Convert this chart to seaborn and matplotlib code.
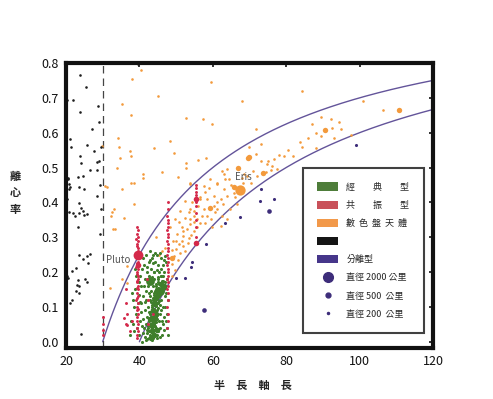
import numpy as np
import pandas as pd
import matplotlib
matplotlib.use('Agg')
import matplotlib.pyplot as plt
import seaborn as sns
from matplotlib.patches import Patch
from matplotlib.lines import Line2D

sns.set_style('white')
plt.rcParams['font.family'] = ['Noto Sans CJK TC', 'DejaVu Sans']
plt.rcParams['axes.unicode_minus'] = False

# ---- data: (semi-major axis, eccentricity) ----
black_pts = [
    [23.9, .765], [25.4, .73], [21.8, .695], [20.4, .695], [23.9, .66], [28.7, .678], [29.0, .632],
    [27.0, .61], [21.1, .582], [21.4, .56], [25.7, .565], [23.7, .532], [24.2, .514], [27.7, .548],
    [28.5, .515], [26.5, .494], [28.5, .494], [20.6, .467], [20.9, .452], [21.0, .445], [23.4, .473],
    [24.5, .476], [23.6, .445], [24.9, .438], [20.7, .438], [28.4, .417], [23.5, .398], [24.1, .385],
    [24.5, .375], [20.8, .371], [21.8, .37], [23.6, .37], [25.0, .365], [25.6, .368], [23.3, .33],
    [29.3, .308], [23.6, .25], [25.6, .247], [24.6, .238], [25.9, .226], [26.6, .252], [22.7, .213],
    [21.7, .203], [20.2, .19], [20.6, .184], [23.4, .178], [25.3, .18], [25.6, .17], [23.0, .162],
    [23.5, .16], [22.6, .145], [23.6, .14], [21.5, .12], [21.1, .11], [24.1, .021], [39.6, .796],
    [29.5, .56], [29.3, .45], [20.3, .41], [22.5, .36], [29.6, .38], [20.5, .47], [28.9, .52],
]

orange_pts = [
    [40.5, .779], [37.9, .755], [45.1, .704], [59.6, .745], [68.0, .692], [35.2, .681], [37.7, .651],
    [52.8, .643], [57.2, .64], [59.8, .625], [34.3, .585], [29.8, .563], [34.5, .558], [44.0, .557],
    [48.4, .576], [37.5, .546], [37.6, .532], [49.5, .541], [34.8, .526], [40.9, .481], [40.9, .47],
    [33.8, .498], [46.1, .486], [52.6, .512], [52.6, .498], [56.1, .522], [58.2, .528], [50.5, .473],
    [30.7, .448], [31.1, .445], [35.2, .438], [37.6, .456], [38.5, .456], [53.7, .452], [32.5, .371],
    [32.3, .361], [84.4, .72], [71.7, .61], [100.8, .692], [106.5, .666], [87.1, .625], [89.4, .644],
    [92.1, .638], [92.6, .613], [95.0, .611], [89.6, .59], [92.9, .584], [97.6, .594], [83.7, .573],
    [84.4, .558], [88.2, .555], [70.0, .56], [73.2, .568], [71.9, .539], [73.0, .52], [75.0, .52],
    [76.6, .524], [78.0, .536], [79.4, .532], [81.9, .534], [76.2, .505], [75.9, .494], [77.4, .496],
    [88.0, .60], [94.5, .63], [53.9, .38], [53.4, .371], [54.8, .361], [53.9, .352], [55.7, .352],
    [56.6, .342], [53.9, .337], [53.0, .323], [54.8, .318], [55.7, .328], [52.0, .303], [53.4, .299],
    [51.6, .289], [50.7, .28], [52.0, .275], [50.1, .265], [51.1, .256], [52.5, .26], [49.3, .246],
    [50.4, .236], [48.9, .222], [49.8, .207], [48.9, .188], [57.5, .38], [58.4, .361], [58.0, .342],
    [61.2, .40], [60.7, .371], [62.5, .361], [59.8, .328], [62.1, .332], [63.9, .352], [64.8, .38],
    [66.6, .395], [65.7, .428], [63.9, .419], [63.0, .438], [61.2, .457], [59.3, .467], [57.5, .448],
    [53.9, .457], [56.6, .409], [52.5, .404], [51.1, .376], [49.8, .352], [48.4, .328], [70.3, .457],
    [72.1, .476], [74.4, .486], [68.4, .481], [33.4, .323], [35.7, .356], [33.1, .382], [38.4, .395],
    [35.2, .179], [36.6, .169], [32.9, .323], [32.0, .155], [36.6, .217], [54.8, .376], [56.1, .39],
    [61.2, .38], [62.1, .409], [60.2, .419], [58.4, .409], [56.6, .414], [54.3, .40], [64.3, .467],
    [63.0, .481], [68.3, .457], [69.4, .476], [62.5, .491], [63.9, .496], [63.4, .467], [61.2, .452],
    [50.3, .31], [51.5, .33], [49.2, .29], [47.0, .27], [46.2, .26], [45.3, .25], [44.6, .3],
    [50.9, .345], [52.3, .355], [55.0, .343], [57.0, .362], [59.6, .352], [60.4, .39], [62.8, .395],
    [51.8, .318], [53.2, .283], [54.0, .305], [50.0, .29], [49.0, .262], [57.9, .43], [59.0, .44],
    [65.0, .45], [66.0, .415], [67.9, .47], [71.0, .49], [74.8, .51], [80.5, .55], [86.0, .585],
]
orange_mid = [[66.9, .50], [70.0, .529], [73.6, .484], [59.2, .384], [49.0, .241], [110.8, .666],
              [90.5, .608], [65.7, .443], [69.6, .528]]
eris = [67.5, .435]

red_pts = [
    # 3:2 resonance column
    [39.3, .33], [39.5, .32], [39.4, .31], [39.6, .30], [39.2, .295], [39.5, .29], [39.4, .28],
    [39.3, .275], [39.6, .27], [39.5, .26], [39.4, .255], [39.3, .245], [39.5, .24], [39.6, .23],
    [39.4, .225], [39.2, .215], [39.5, .21], [39.4, .20], [39.3, .195], [39.6, .19], [39.5, .18],
    [39.4, .175], [39.3, .17], [39.5, .16], [39.4, .155], [39.6, .15], [39.3, .14], [39.5, .13],
    [39.4, .125], [39.2, .12], [39.5, .11], [39.4, .10], [39.6, .095], [39.3, .09], [39.5, .08],
    [39.4, .07], [39.3, .06], [39.5, .05], [39.4, .04], [39.6, .03], [39.3, .02], [39.4, .01],
    # 2:1 resonance column
    [47.7, .40], [47.8, .38], [47.6, .36], [47.7, .35], [47.9, .34], [47.7, .33], [47.6, .32],
    [47.8, .31], [47.7, .30], [47.6, .29], [47.8, .28], [47.7, .27], [47.9, .26], [47.6, .25],
    [47.7, .24], [47.8, .23], [47.6, .22], [47.7, .21], [47.8, .20], [47.7, .19], [47.6, .18],
    [47.8, .17], [47.7, .16], [47.6, .15], [47.8, .14], [47.7, .12], [47.6, .10], [47.8, .08],
    [47.7, .06], [47.6, .04],
    # 5:2 resonance column
    [55.4, .45], [55.5, .44], [55.3, .43], [55.4, .42], [55.5, .41], [55.4, .40], [55.3, .39],
    [55.5, .37], [55.4, .35], [55.3, .33], [55.5, .30],
    # trojans and other resonances
    [30.1, .035], [30.2, .05], [30.0, .072], [30.1, .02], [36.4, .05], [36.5, .08], [36.3, .11],
    [36.4, .15], [35.7, .069], [36.6, .049], [37.4, .03], [38.0, .06], [42.3, .05], [42.3, .12],
    [42.2, .18], [43.7, .08],
]
red_mid = [[55.3, .284], [55.5, .41], [39.5, .22]]
pluto = [39.5, .25]

purple_pts = [[99.0, .566], [73.0, .438], [76.8, .409], [72.8, .404], [67.3, .358], [63.2, .34],
              [58.2, .28], [54.3, .23], [54.1, .214], [52.5, .184], [50.1, .184]]
purple_mid = [[75.3, .376], [57.5, .092]]

green_pts = [
    [41.8, .005], [42.5, .01], [43.0, .015], [43.3, .005], [43.8, .012], [44.2, .018], [42.2, .008], [43.6, .02],
    [42.0, .025], [42.7, .03], [43.1, .035], [43.5, .028], [44.0, .033], [44.4, .038], [42.4, .04], [43.9, .022],
    [42.3, .045], [42.9, .05], [43.3, .055], [43.7, .048], [44.1, .052], [44.6, .058], [42.6, .06], [43.5, .042],
    [42.6, .065], [43.2, .07], [43.6, .075], [44.0, .068], [44.4, .072], [44.8, .078], [43.0, .08], [43.8, .062],
    [42.9, .085], [43.5, .09], [43.9, .095], [44.3, .088], [44.7, .092], [45.0, .098], [43.3, .10], [44.1, .082],
    [43.3, .105], [43.8, .11], [44.2, .115], [44.6, .108], [45.0, .112], [45.3, .118], [43.6, .12], [44.4, .102],
    [43.7, .125], [44.2, .13], [44.6, .135], [45.0, .128], [45.4, .132], [45.7, .138], [44.0, .14], [44.8, .122],
    [44.2, .145], [44.6, .15], [45.0, .155], [45.4, .148], [45.8, .152], [46.1, .158],
    [44.6, .165], [45.1, .17], [45.6, .168], [46.2, .175], [45.0, .185], [45.8, .19], [46.5, .188],
    [38.6, .03], [39.0, .08], [38.8, .15], [39.2, .19], [40.0, .02], [40.2, .06], [40.5, .11], [40.3, .16],
    [40.7, .21], [40.9, .24], [41.2, .04], [41.4, .09], [41.0, .13], [41.6, .18], [41.3, .22], [41.8, .25],
    [42.1, .07], [41.9, .12], [42.3, .16], [42.0, .20], [42.5, .23], [42.8, .26], [43.1, .21], [43.4, .24],
    [43.9, .20], [44.2, .23], [44.7, .25], [45.0, .22], [45.4, .20], [45.9, .24], [46.3, .22], [46.8, .20],
    [47.2, .23], [46.9, .17], [47.3, .14], [47.0, .10], [46.6, .07], [47.4, .04], [46.2, .02], [45.6, .04],
    [45.8, .09], [46.0, .12], [46.9, .13], [45.3, .06], [47.6, .08], [47.9, .02], [44.9, .01], [45.1, .03],
    [39.6, .11], [38.4, .10], [37.8, .06], [37.5, .02], [40.8, .00], [41.5, .015], [46.5, .15], [47.5, .18],
    [44.0, .18], [43.6, .16], [42.7, .19], [43.0, .13], [42.4, .10], [41.7, .05], [44.5, .16], [45.2, .18],
    [46.0, .19], [47.0, .245], [44.3, .255], [42.9, .235], [45.5, .255], [43.7, .25], [46.4, .05], [47.8, .12],
    [39.9, .135], [40.6, .045], [38.2, .12], [42.8, .12], [43.2, .145], [44.9, .065], [45.5, .105], [46.3, .10],
    [42.1, .035], [42.8, .02], [43.4, .065], [44.3, .045], [44.8, .02], [42.5, .085], [43.1, .115], [44.0, .105],
    [44.9, .14], [45.3, .165], [46.0, .14], [45.6, .08], [46.1, .06], [41.1, .065], [40.4, .085], [41.5, .115],
    [41.2, .16], [41.9, .145], [42.6, .14], [43.3, .185], [44.0, .2], [44.9, .205], [45.9, .21], [46.6, .235],
    [42.2, .215], [43.6, .225], [40.1, .19], [39.4, .04], [39.8, .17], [38.9, .21], [45.7, .015], [46.8, .035],
    [47.2, .06], [47.1, .155], [46.4, .175], [41.0, .025], [40.2, .115], [38.3, .05], [37.9, .14], [43.9, .135],
]
green_mid = [[44.3, .11], [44.6, .125], [43.0, .065], [43.8, .09], [44.8, .035], [44.0, .02], [45.2, .14],
             [46.6, .16], [43.5, .045], [44.1, .06], [43.4, .03], [44.5, .08], [43.2, .01], [45.9, .165]]
green_big = [[43.0, .175], [45.7, .145]]

perihelion_q = [30, 40]
a_limit = 30

col_green = '#3f7f2c'
col_red = '#d4294a'
col_orange = '#f39a3c'
col_black = '#1e1e1e'
col_purple = '#3d2d7a'


def frame(pts):
    return pd.DataFrame(pts, columns=['a', 'e'])


fig = plt.figure(figsize=(4.93, 3.99), dpi=100)
ax = fig.add_axes([66 / 493, 1 - 348 / 399, (433 - 66) / 493, (348 - 63) / 399])

# perihelion curves and the a=30 line
for q in perihelion_q:
    aa = np.linspace(q, 120, 200)
    ax.plot(aa, 1 - q / aa, color='#63549a', lw=1.0, zorder=1)
ax.axvline(a_limit, color='#444444', lw=0.9, ls=(0, (6, 4)), zorder=1)

kw = dict(linewidth=0, legend=False, ax=ax)
sns.scatterplot(data=frame(orange_pts), x='a', y='e', color=col_orange, s=3.5, zorder=2, **kw)
sns.scatterplot(data=frame(orange_mid), x='a', y='e', color=col_orange, s=15, zorder=2, **kw)
sns.scatterplot(data=frame([eris]), x='a', y='e', color=col_orange, s=55, zorder=2, **kw)
sns.scatterplot(data=frame(black_pts), x='a', y='e', color=col_black, s=3.5, zorder=2, **kw)
sns.scatterplot(data=frame(purple_pts), x='a', y='e', color=col_purple, s=5, zorder=2, **kw)
sns.scatterplot(data=frame(purple_mid), x='a', y='e', color=col_purple, s=11, zorder=2, **kw)
sns.scatterplot(data=frame(green_pts), x='a', y='e', color=col_green, s=5, zorder=3, **kw)
sns.scatterplot(data=frame(green_mid), x='a', y='e', color=col_green, s=16, zorder=3, **kw)
sns.scatterplot(data=frame(green_big), x='a', y='e', color=col_green, s=40, zorder=3, **kw)
sns.scatterplot(data=frame(red_pts), x='a', y='e', color=col_red, s=4.5, zorder=4, **kw)
sns.scatterplot(data=frame(red_mid), x='a', y='e', color=col_red, s=16, zorder=4, **kw)
sns.scatterplot(data=frame([pluto]), x='a', y='e', color=col_red, s=50, zorder=4, **kw)

ax.text(37.6, 0.236, 'Pluto', ha='right', va='center', fontsize=7, color='#555555')
ax.text(68.2, 0.473, 'Eris', ha='center', va='center', fontsize=7, color='#555555')

ax.set_xlim(20, 120)
ax.set_ylim(-0.018, 0.8)
ax.set_xticks([20, 40, 60, 80, 100, 120])
ax.set_yticks(np.arange(0, 0.81, 0.1))
ax.set_yticklabels([f'{v:.1f}' for v in np.arange(0, 0.81, 0.1)])
ax.tick_params(direction='in', length=3, width=1.2, top=True, right=True,
               labelsize=9, pad=5, colors='#111111')
for sp in ax.spines.values():
    sp.set_linewidth(3)
    sp.set_color('#111111')
ax.set_xlabel('')
ax.set_ylabel('')

fig.text(15 / 493, 1 - 193 / 399, '離\n心\n率', ha='center', va='center',
         fontsize=8, fontweight='bold', linespacing=1.35)
fig.text(253 / 493, 1 - 385 / 399, '半\u3000長\u3000軸\u3000長', ha='center', va='center',
         fontsize=8, fontweight='bold')

handles = [
    Patch(facecolor='#4e7d3a', edgecolor='none'),
    Patch(facecolor='#c9515a', edgecolor='none'),
    Patch(facecolor='#f2994a', edgecolor='none'),
    Patch(facecolor='#151515', edgecolor='none'),
    Patch(facecolor='#46368a', edgecolor='none'),
    Line2D([], [], ls='none', marker='o', color=col_purple, markersize=7),
    Line2D([], [], ls='none', marker='o', color=col_purple, markersize=3.5),
    Line2D([], [], ls='none', marker='o', color=col_purple, markersize=1.5),
]
labels = ['經\u3000\u3000典\u3000\u3000型', '共\u3000\u3000振\u3000\u3000型', '數  色  盤  天  體', ' ',
          '分離型', '直徑 2000 公里', '直徑 500  公里', '直徑 200  公里']
leg = ax.legend(handles, labels, loc='upper left', bbox_to_anchor=(303 / 493, 1 - 168 / 399),
                bbox_transform=fig.transFigure, fontsize=6.5, frameon=True, fancybox=False,
                borderpad=1.6, handlelength=2.3, handleheight=1.0, handletextpad=0.9,
                labelspacing=1.0, borderaxespad=0)
leg.get_frame().set_edgecolor('#111111')
leg.get_frame().set_linewidth(1.5)

fig.savefig('out.png', dpi=100)
